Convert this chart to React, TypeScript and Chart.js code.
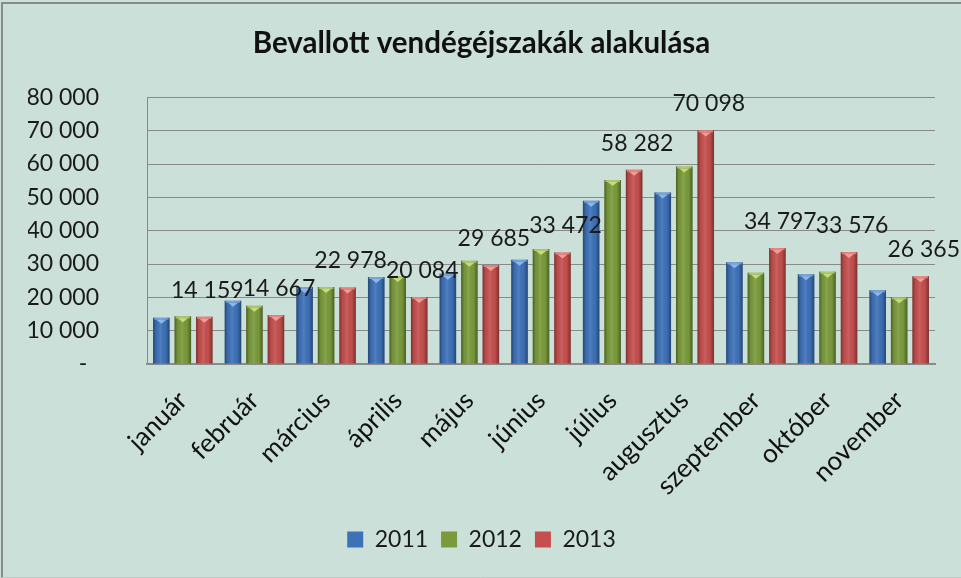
import React, { useEffect, useRef } from 'react';
import { Chart, registerables } from 'chart.js';

Chart.register(...registerables);

const categories = ['január', 'február', 'március', 'április', 'május', 'június', 'július', 'augusztus', 'szeptember', 'október', 'november'];
const seriesNames = ['2011', '2012', '2013'];
const values2011 = [13900, 19000, 23100, 26100, 27100, 31300, 49000, 51500, 30500, 26900, 22100];
const values2012 = [14300, 17500, 23100, 26400, 31000, 34500, 55200, 59300, 27400, 27700, 20000];
const values2013 = [14159, 14667, 22978, 20084, 29685, 33472, 58282, 70098, 34797, 33576, 26365];
const yMin = 0;
const yMax = 80000;
const yStep = 10000;

const titleText = 'Bevallott vendégéjszakák alakulása';
const FONT = 'Lato, "Open Sans", sans-serif';

const baseColors = ['#3d71b8', '#7a9a3b', '#c44f4d'];
const capColors = ['#8fb6ea', '#c3dc7e', '#f29b98'];

const fmt = (v: number) => String(Math.round(v)).replace(/\B(?=(\d{3})+(?!\d))/g, ' ');

const backgroundPlugin = {
  id: 'bgFrame',
  beforeDraw(chart: any) {
    const { ctx, width, height } = chart;
    ctx.save();
    ctx.fillStyle = '#cbe0d8';
    ctx.fillRect(0, 0, width, height);
    ctx.strokeStyle = '#8a8a8a';
    ctx.lineWidth = 2;
    ctx.beginPath();
    ctx.moveTo(2, height);
    ctx.lineTo(2, 3);
    ctx.lineTo(width, 3);
    ctx.stroke();
    ctx.strokeStyle = '#b9c9c3';
    ctx.lineWidth = 1;
    ctx.beginPath();
    ctx.moveTo(0, height - 0.5);
    ctx.lineTo(width, height - 0.5);
    ctx.stroke();
    ctx.restore();
  },
};

const barShadePlugin = {
  id: 'barShade',
  afterDatasetsDraw(chart: any) {
    const { ctx } = chart;
    ctx.save();
    chart.data.datasets.forEach((_ds: any, di: number) => {
      const meta = chart.getDatasetMeta(di);
      meta.data.forEach((bar: any) => {
        const { x, y, base, width } = bar.getProps(['x', 'y', 'base', 'width'], true);
        const l = x - width / 2;
        const h = base - y;
        const g = ctx.createLinearGradient(l, 0, l + width, 0);
        g.addColorStop(0, 'rgba(0,0,0,0.38)');
        g.addColorStop(0.18, 'rgba(0,0,0,0.06)');
        g.addColorStop(0.45, 'rgba(255,255,255,0.10)');
        g.addColorStop(0.75, 'rgba(0,0,0,0.02)');
        g.addColorStop(1, 'rgba(0,0,0,0.38)');
        ctx.fillStyle = g;
        ctx.fillRect(l, y, width, h);
        ctx.fillStyle = capColors[di];
        ctx.globalAlpha = 0.7;
        ctx.fillRect(l + 1, y, width - 2, 2);
        ctx.globalAlpha = 1;
        ctx.beginPath();
        ctx.moveTo(x - width * 0.3, y + 2);
        ctx.lineTo(x + width * 0.3, y + 2);
        ctx.lineTo(x, y + 6);
        ctx.closePath();
        ctx.fill();
      });
    });
    ctx.restore();
  },
};

const dataLabelPlugin = {
  id: 'dataLabels2013',
  afterDatasetsDraw(chart: any) {
    const { ctx } = chart;
    const meta = chart.getDatasetMeta(2);
    const ds = chart.data.datasets[2];
    ctx.save();
    ctx.font = `23px ${FONT}`;
    ctx.fillStyle = '#1a1a1a';
    ctx.textAlign = 'center';
    ctx.textBaseline = 'alphabetic';
    meta.data.forEach((bar: any, i: number) => {
      const { x, y } = bar.getProps(['x', 'y'], true);
      ctx.fillText(fmt(ds.data[i]), x + 3, y - 19);
    });
    ctx.restore();
  },
};

export default function App() {
  const canvasRef = useRef<HTMLCanvasElement | null>(null);

  useEffect(() => {
    if (!canvasRef.current) return;
    const chart = new Chart(canvasRef.current, {
      type: 'bar',
      data: {
        labels: categories,
        datasets: [
          { label: seriesNames[0], data: values2011, backgroundColor: baseColors[0], borderWidth: 0 },
          { label: seriesNames[1], data: values2012, backgroundColor: baseColors[1], borderWidth: 0 },
          { label: seriesNames[2], data: values2013, backgroundColor: baseColors[2], borderWidth: 0 },
        ],
      },
      options: {
        responsive: false,
        animation: false,
        devicePixelRatio: 1,
        datasets: { bar: { categoryPercentage: 0.9, barPercentage: 0.77 } },
        layout: { padding: { left: 28, right: 26, top: 0, bottom: 17 } },
        plugins: {
          title: {
            display: true,
            text: titleText,
            color: '#111',
            font: { family: FONT, size: 29.5, weight: 'bold' },
            padding: { top: 26, bottom: 36 },
          },
          legend: {
            position: 'bottom',
            labels: {
              boxWidth: 16,
              boxHeight: 16,
              padding: 13,
              color: '#1a1a1a',
              font: { family: FONT, size: 23 },
            },
          },
          tooltip: { enabled: false },
        },
        scales: {
          x: {
            grid: { display: false, drawTicks: false },
            border: { display: true, color: '#8a8a8a', width: 2 },
            ticks: {
              autoSkip: false,
              maxRotation: 45,
              minRotation: 45,
              padding: 21,
              color: '#111',
              font: { family: FONT, size: 26 },
            },
            afterFit: (scale: any) => {
              scale.height = 151;
            },
          },
          y: {
            min: yMin,
            max: yMax,
            grid: { color: '#8a8a8a', lineWidth: 1, drawTicks: false },
            border: { display: true, color: '#8a8a8a', width: 1 },
            ticks: {
              stepSize: yStep,
              padding: 48,
              color: '#1a1a1a',
              font: { family: FONT, size: 23 },
              callback: (v: any) => (Number(v) === 0 ? '-  ' : fmt(Number(v))),
            },
            afterFit: (scale: any) => {
              scale.width = 119;
            },
          },
        },
      },
      plugins: [backgroundPlugin, barShadePlugin, dataLabelPlugin],
    } as any);
    return () => chart.destroy();
  }, []);

  return (
    <div style={{ position: 'fixed', left: 0, top: 0, width: 961, height: 578 }}>
      <canvas ref={canvasRef} width={961} height={578} style={{ display: 'block' }} />
    </div>
  );
}
